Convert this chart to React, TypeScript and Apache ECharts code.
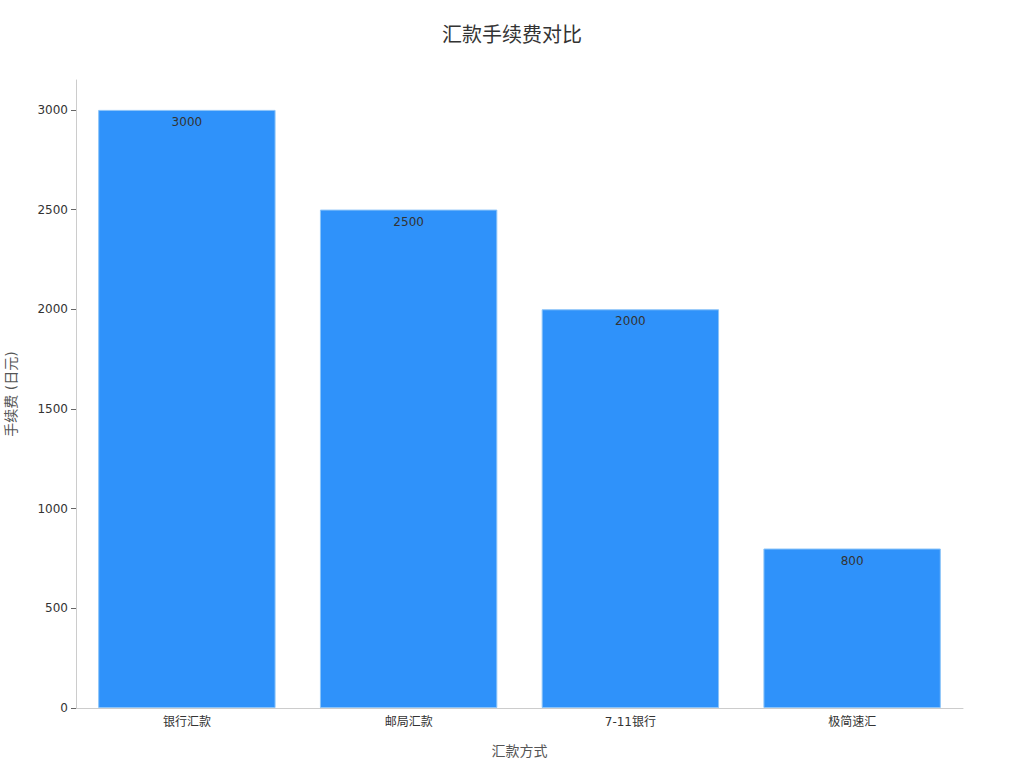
import React, { useEffect, useRef } from 'react';
import * as echarts from 'echarts';

const methods = ['银行汇款', '邮局汇款', '7-11银行', '极简速汇'];
const fees = [3000, 2500, 2000, 800];
const yTicks = [0, 500, 1000, 1500, 2000, 2500, 3000];

const FONT = '"DejaVu Sans", "Noto Sans CJK SC", sans-serif';

const App: React.FC = () => {
  const chartRef = useRef<HTMLDivElement>(null);

  useEffect(() => {
    if (!chartRef.current) return;
    const chart = echarts.init(chartRef.current, null, { renderer: 'svg' });

    chart.setOption({
      animation: false,
      backgroundColor: '#fff',
      textStyle: { fontFamily: FONT },
      title: {
        text: '汇款手续费对比',
        left: 'center',
        top: 20,
        textStyle: { color: '#333', fontSize: 20, fontWeight: 'normal', fontFamily: FONT }
      },
      grid: { left: 76, right: 61, top: 80, bottom: 60, containLabel: false, outerBoundsMode: 'none' },
      xAxis: {
        type: 'category',
        data: methods,
        name: '汇款方式',
        nameLocation: 'middle',
        nameGap: 36,
        nameTextStyle: { color: '#555', fontSize: 14, fontFamily: FONT },
        axisLine: { lineStyle: { color: '#ccc' } },
        axisTick: { alignWithLabel: true, length: 5, lineStyle: { color: '#666' } },
        axisLabel: { color: '#333', fontSize: 12, margin: 8, fontFamily: FONT }
      },
      yAxis: {
        type: 'value',
        min: 0,
        max: 3150,
        name: '手续费 (日元)',
        nameLocation: 'middle',
        nameGap: 58,
        nameTextStyle: { color: '#555', fontSize: 14, fontFamily: FONT },
        axisLine: { show: true, lineStyle: { color: '#ccc' } },
        axisTick: { show: true, length: 5, customValues: yTicks, lineStyle: { color: '#666' } },
        axisLabel: {
          color: '#333',
          fontSize: 12,
          margin: 8,
          customValues: yTicks,
          formatter: (v: number) => String(v),
          fontFamily: FONT
        },
        splitLine: { show: false }
      },
      series: [
        {
          type: 'bar',
          data: fees,
          barCategoryGap: '20%',
          itemStyle: { color: '#2f92fa', borderColor: '#8cc4f8', borderWidth: 1 },
          label: {
            show: true,
            position: 'insideTop',
            distance: 6,
            color: '#333',
            fontSize: 12,
            fontFamily: FONT
          }
        }
      ]
    });

    return () => {
      chart.dispose();
    };
  }, []);

  return (
    <div
      ref={chartRef}
      style={{ position: 'fixed', left: 0, top: 0, width: 1024, height: 768 }}
    />
  );
};

export default App;
